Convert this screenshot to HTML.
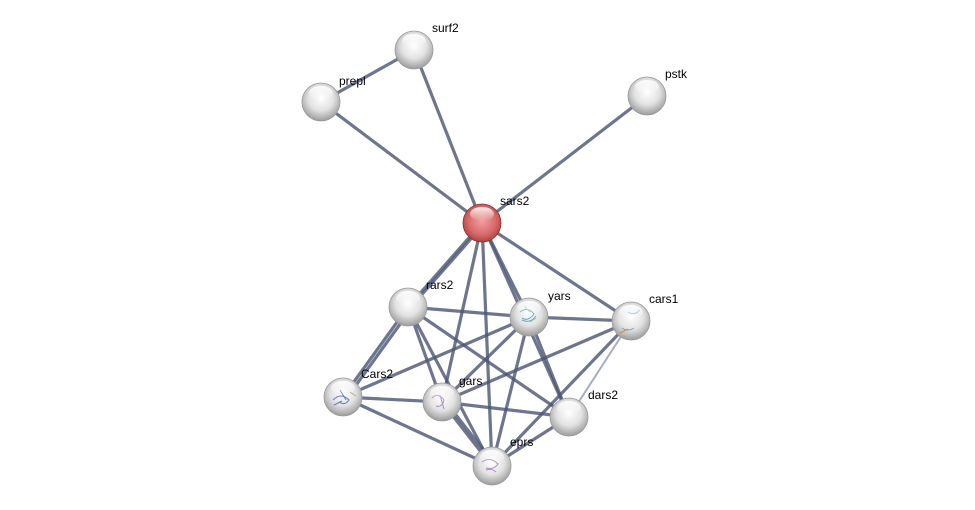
<!DOCTYPE html>
<html><head><meta charset="utf-8"><style>
html,body{margin:0;padding:0;background:#fff;width:975px;height:510px;overflow:hidden}
text{font-family:"Liberation Sans",sans-serif;font-size:12px;fill:#000}
</style></head><body>
<svg width="975" height="510" viewBox="0 0 975 510">
<defs>
<radialGradient id="g" cx="50%" cy="40%" r="60%">
<stop offset="0" stop-color="#ffffff"/><stop offset="0.55" stop-color="#e2e2e2"/><stop offset="1" stop-color="#9c9c9c"/>
</radialGradient>
<radialGradient id="r" cx="50%" cy="45%" r="60%">
<stop offset="0" stop-color="#f0a0a0"/><stop offset="0.6" stop-color="#d86a6a"/><stop offset="1" stop-color="#a83838"/>
</radialGradient>
<linearGradient id="h" x1="0" y1="0" x2="0" y2="1">
<stop offset="0" stop-color="#fff" stop-opacity="0.9"/><stop offset="1" stop-color="#fff" stop-opacity="0"/>
</linearGradient>
</defs>
<g stroke="#4e5775" stroke-width="3.2" stroke-opacity="0.82" fill="none">
<line x1="321" y1="102" x2="414" y2="50"/>
<line x1="321" y1="102" x2="482" y2="223"/>
<line x1="414" y1="50" x2="482" y2="223"/>
<line x1="647" y1="96" x2="482" y2="223"/>
<line x1="482" y1="223" x2="408" y2="307"/>
<line x1="484" y1="224" x2="410" y2="308"/>
<line x1="482" y1="223" x2="442" y2="402"/>
<line x1="482" y1="223" x2="492" y2="466"/>
<line x1="482" y1="223" x2="529" y2="317"/>
<line x1="482" y1="223" x2="569" y2="417"/>
<line x1="482" y1="223" x2="631" y2="321"/>
<line x1="408" y1="307" x2="529" y2="317"/>
<line x1="529" y1="317" x2="631" y2="321"/>
<line x1="408" y1="307" x2="343" y2="397"/>
<line x1="411" y1="309" x2="346" y2="399"/>
<line x1="408" y1="307" x2="442" y2="402"/>
<line x1="408" y1="307" x2="492" y2="466"/>
<line x1="408" y1="307" x2="569" y2="417"/>
<line x1="529" y1="317" x2="343" y2="397"/>
<line x1="529" y1="317" x2="442" y2="402"/>
<line x1="529" y1="317" x2="492" y2="466"/>
<line x1="529" y1="317" x2="569" y2="417"/>
<line x1="631" y1="321" x2="442" y2="402"/>
<line x1="631" y1="321" x2="492" y2="466"/>
<line x1="343" y1="397" x2="442" y2="402"/>
<line x1="343" y1="397" x2="492" y2="466"/>
<line x1="442" y1="402" x2="569" y2="417"/>
<line x1="442" y1="402" x2="492" y2="466"/>
<line x1="445" y1="401" x2="495" y2="465"/>
<line x1="569" y1="417" x2="492" y2="466"/>
</g>
<line x1="631" y1="321" x2="569" y2="417" stroke="#a8adc0" stroke-width="2"/>
<g>
<circle cx="414" cy="50" r="19" fill="url(#g)" stroke="#999" stroke-width="0.8"/>
<circle cx="321" cy="102" r="19" fill="url(#g)" stroke="#999" stroke-width="0.8"/>
<circle cx="647" cy="96" r="19" fill="url(#g)" stroke="#999" stroke-width="0.8"/>
<circle cx="482" cy="223" r="19" fill="url(#r)" stroke="#8a3030" stroke-width="0.8"/>
<circle cx="408" cy="307" r="19" fill="url(#g)" stroke="#999" stroke-width="0.8"/>
<circle cx="529" cy="317" r="19" fill="url(#g)" stroke="#999" stroke-width="0.8"/>
<circle cx="631" cy="321" r="19" fill="url(#g)" stroke="#999" stroke-width="0.8"/>
<circle cx="343" cy="397" r="19" fill="url(#g)" stroke="#999" stroke-width="0.8"/>
<circle cx="442" cy="402" r="19" fill="url(#g)" stroke="#999" stroke-width="0.8"/>
<circle cx="569" cy="417" r="19" fill="url(#g)" stroke="#999" stroke-width="0.8"/>
<circle cx="492" cy="466" r="19" fill="url(#g)" stroke="#999" stroke-width="0.8"/>
</g>
<g stroke-width="1" fill="none" opacity="0.8">
<path d="M520 312 q8 -6 14 2 q-6 8 -12 4 M522 320 q8 4 14 -4" stroke="#4a90c0"/>
<path d="M524 306 l6 6 M530 322 l6 -4" stroke="#7ac070"/>
<path d="M622 328 q6 4 12 0 M628 312 q6 4 12 -2" stroke="#50a0c0"/>
<path d="M620 333 l8 -4" stroke="#e07030"/>
<path d="M333 400 q8 -8 16 0 q-4 6 -10 2 M340 390 l6 10 M334 405 l8 -4" stroke="#4060c0"/>
<path d="M350 392 l6 4" stroke="#70c060"/>
<path d="M432 398 q6 -6 12 2 q-2 8 -8 6 M440 395 l4 14" stroke="#a070c0"/>
<path d="M482 462 q8 -6 16 2 q-4 6 -12 4 M486 470 q6 -2 10 2" stroke="#a070c0"/>
</g>
<g fill="url(#h)">
<ellipse cx="414" cy="41" rx="12" ry="7"/><ellipse cx="321" cy="93" rx="12" ry="7"/>
<ellipse cx="647" cy="87" rx="12" ry="7"/><ellipse cx="482" cy="214" rx="12" ry="7"/>
<ellipse cx="408" cy="298" rx="12" ry="7"/><ellipse cx="529" cy="308" rx="12" ry="7"/>
<ellipse cx="631" cy="312" rx="12" ry="7"/><ellipse cx="343" cy="388" rx="12" ry="7"/>
<ellipse cx="442" cy="393" rx="12" ry="7"/><ellipse cx="569" cy="408" rx="12" ry="7"/>
<ellipse cx="492" cy="457" rx="12" ry="7"/>
</g>
<text x="432" y="32">surf2</text>
<text x="339" y="85">prepl</text>
<text x="665" y="78">pstk</text>
<text x="500" y="205">sars2</text>
<text x="426" y="289">rars2</text>
<text x="548" y="300">yars</text>
<text x="649" y="303">cars1</text>
<text x="361" y="378">Cars2</text>
<text x="459" y="385">gars</text>
<text x="588" y="399">dars2</text>
<text x="510" y="446">eprs</text>
</svg>
</body></html>
